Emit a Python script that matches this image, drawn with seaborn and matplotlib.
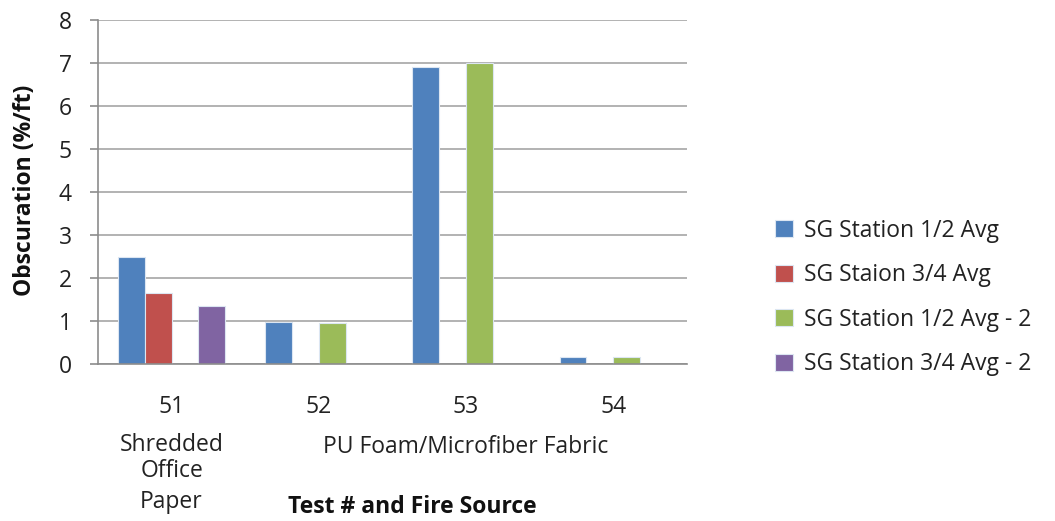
import numpy as np
import pandas as pd
import matplotlib
matplotlib.use("Agg")
import matplotlib.pyplot as plt
import seaborn as sns

tests = ["51", "52", "53", "54"]
series = ["SG Station 1/2 Avg", "SG Staion 3/4 Avg",
          "SG Station 1/2 Avg - 2", "SG Station 3/4 Avg - 2"]
station_12 = [2.50, 0.97, 6.90, 0.17]
station_34 = [1.65, np.nan, np.nan, np.nan]
station_12_b = [np.nan, 0.95, 7.00, 0.17]
station_34_b = [1.35, np.nan, np.nan, np.nan]
colors = ["#4F81BD", "#C0504D", "#9BBB59", "#8064A2"]

rows = []
for name, vals in zip(series, [station_12, station_34, station_12_b, station_34_b]):
    for t, v in zip(tests, vals):
        rows.append({"Test": t, "Series": name, "Obscuration": v})
df = pd.DataFrame(rows)

sns.set_style("white")
plt.rcParams["font.family"] = ["Open Sans", "DejaVu Sans"]
FS = 16.5
TXT = "#222222"

fig = plt.figure(figsize=(10.55, 5.21), dpi=100)
ax = fig.add_axes([0.0929, 0.3013, 0.5582, 0.6603])

sns.barplot(data=df, x="Test", y="Obscuration", hue="Series", order=tests,
            hue_order=series, palette=colors, width=0.73, saturation=1,
            ax=ax, edgecolor="#dce6f2", linewidth=0.8, legend=True)

ax.set_ylim(0, 8)
ax.set_yticks(range(0, 9))
ax.set_xlim(-0.5, 3.5)
ax.yaxis.grid(True, color="#a6a6a6", linewidth=1.2)
ax.set_axisbelow(True)
for side in ["top", "right"]:
    ax.spines[side].set_visible(False)
for side in ["left", "bottom"]:
    ax.spines[side].set_color("#8c8c8c")
    ax.spines[side].set_linewidth(1.2)
ax.tick_params(axis="y", length=6, color="#8c8c8c", width=1.2, labelsize=FS,
               labelcolor=TXT, left=True, pad=13)
ax.set_xticks([])
ax.set_xlabel("")
ax.set_ylabel("")
fig.text(25 / 1055, 1 - 190 / 521, "Obscuration (%/ft)", rotation=90,
         ha="center", va="center", fontsize=FS, fontweight="bold", color="#111111")

# category labels under the axis (y in axes fraction, below the bottom spine)
trans = ax.get_xaxis_transform()
for p, t in enumerate(tests):
    ax.text(p, -0.125, t, transform=trans, ha="center", va="center",
            fontsize=FS, color=TXT)
for word, yy in zip(["Shredded", "Office", "Paper"], [-0.235, -0.31, -0.40]):
    ax.text(0, yy, word, transform=trans, ha="center", va="center",
            fontsize=FS, color=TXT)
ax.text(2.0, -0.24, "PU Foam/Microfiber Fabric", transform=trans,
        ha="center", va="center", fontsize=FS, color=TXT)
ax.text(1.636, -0.416, "Test # and Fire Source", transform=trans, ha="center",
        va="center", fontsize=FS, fontweight="bold", color="#111111")

handles, labels = ax.get_legend_handles_labels()
ax.legend(handles, labels, loc="center left", bbox_to_anchor=(0.735, 0.429),
          bbox_transform=fig.transFigure, borderpad=0, borderaxespad=0,
          frameon=False, fontsize=FS, handlelength=0.75, handleheight=0.75,
          labelspacing=0.9, handletextpad=0.5, labelcolor=TXT)

fig.savefig("out.png", dpi=100)
